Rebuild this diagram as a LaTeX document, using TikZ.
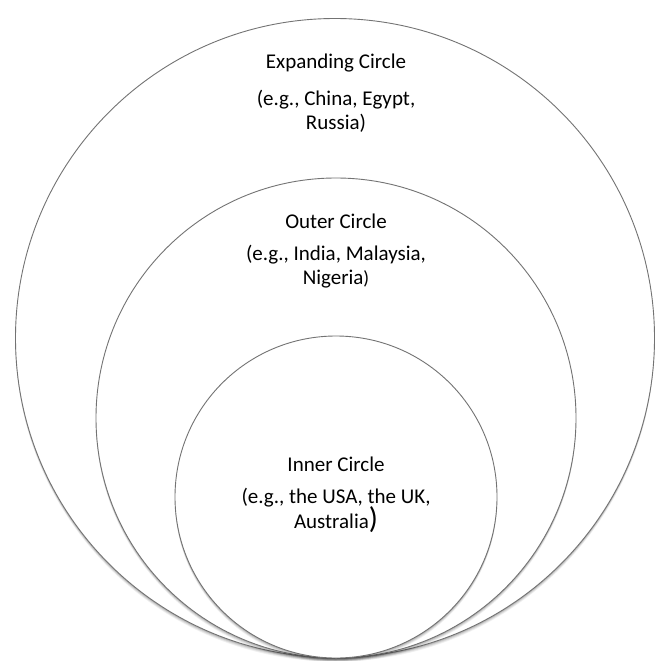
\documentclass[tikz,border=0pt]{standalone}
\usepackage{fontspec}
\setmainfont{Carlito}
\begin{document}
\begin{tikzpicture}[x=1pt,y=-1pt,
  ring/.style={draw=black!55, line width=0.9pt, fill=white},
  label/.style={font=\fontsize{21}{24}\selectfont, anchor=base, inner sep=0pt}]
\useasboundingbox (0,0) rectangle (654,661);
% outer (expanding)
\foreach \d/\o in {4/0.06,3/0.08,2/0.10,1/0.12}{
  \fill[black, opacity=\o] (335,{338+\d}) circle (319.5);}
\node[ring, circle, minimum size=639pt, inner sep=0pt] (exp) at (335,338) {};
% middle (outer circle)
\foreach \d/\o in {4/0.06,3/0.08,2/0.10,1/0.12}{
  \fill[black, opacity=\o] (336,{418+\d}) circle (240);}
\node[ring, circle, minimum size=480pt, inner sep=0pt] (out) at (336,418) {};
% inner
\foreach \d/\o in {4/0.06,3/0.08,2/0.10,1/0.12}{
  \fill[black, opacity=\o] (336,{497+\d}) circle (161);}
\node[ring, circle, minimum size=322pt, inner sep=0pt] (inn) at (336,497) {};
% labels
\node[label] (expT) at (336,69) {Expanding Circle};
\node[label] (expD1) at (336,105) {(e.g., China, Egypt,};
\node[label] (expD2) at (336,129) {Russia)};
\node[label] (outT) at (336,228) {Outer Circle};
\node[label] (outD1) at (336,260) {(e.g., India, Malaysia,};
\node[label] (outD2) at (336,284) {Nigeria{\fontsize{19}{24}\selectfont)}};
\node[label] (innT) at (336,471) {Inner Circle};
\node[label] (innD1) at (336,503) {(e.g., the USA, the UK,};
\node[label] (innD2) at (336,528) {Australia{\fontsize{30}{24}\selectfont)}};
\end{tikzpicture}
\end{document}
